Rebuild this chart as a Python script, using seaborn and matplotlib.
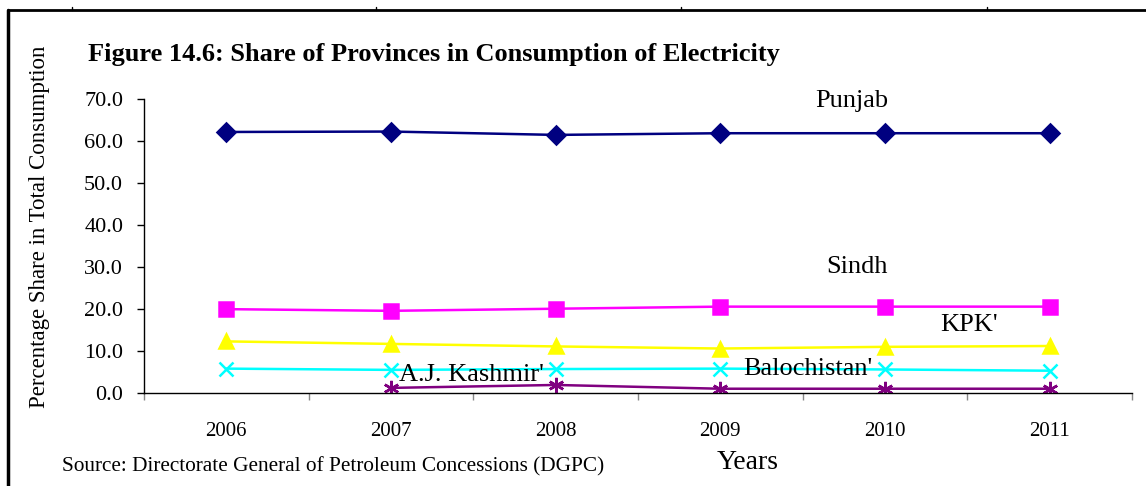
import matplotlib
matplotlib.use("Agg")
import matplotlib.pyplot as plt
from matplotlib.lines import Line2D
import seaborn as sns
import pandas as pd
import numpy as np

years = ["2006", "2007", "2008", "2009", "2010", "2011"]
punjab = [62.2, 62.3, 61.5, 61.9, 61.9, 61.9]
sindh = [19.9, 19.5, 20.0, 20.5, 20.5, 20.5]
kpk = [12.2, 11.6, 11.0, 10.5, 10.9, 11.1]
balochistan = [5.7, 5.4, 5.6, 5.7, 5.5, 5.2]
ajk = [np.nan, 1.1, 1.8, 0.9, 0.9, 0.9]
series_names = ["Punjab", "Sindh", "KPK'", "Balochistan'", "A.J. Kashmir'"]
title = "Figure 14.6: Share of Provinces in Consumption of Electricity"
source = "Source: Directorate General of Petroleum Concessions (DGPC)"

sns.set_style("white")
plt.rcParams["font.family"] = ["Liberation Serif", "DejaVu Serif"]
plt.rcParams["text.color"] = "black"
plt.rcParams["axes.labelcolor"] = "black"
plt.rcParams["xtick.color"] = "black"
plt.rcParams["ytick.color"] = "black"

rows = []
for name, vals in zip(series_names, [punjab, sindh, kpk, balochistan, ajk]):
    for i, v in enumerate(vals):
        if not np.isnan(v):
            rows.append({"idx": i, "value": v, "province": name})
df = pd.DataFrame(rows)

palette = {"Punjab": "#000080", "Sindh": "#FF00FF", "KPK'": "#FFFF00",
           "Balochistan'": "#00FFFF", "A.J. Kashmir'": "#800080"}
markers = {"Punjab": "D", "Sindh": "s", "KPK'": "^",
           "Balochistan'": "x", "A.J. Kashmir'": (6, 2, 0)}
msizes = {"Punjab": 9, "Sindh": 10, "KPK'": 10, "Balochistan'": 10, "A.J. Kashmir'": 11}

fig = plt.figure(figsize=(11.46, 4.86), dpi=100)
ax = fig.add_axes([144 / 1146, 93.5 / 486, (1132 - 144) / 1146, (392.5 - 99.3) / 486])

for name in series_names:
    sub = df[df["province"] == name]
    c = palette[name]
    sns.lineplot(data=sub, x="idx", y="value", color=c, marker=markers[name],
                 markersize=msizes[name], markeredgewidth=1.8, markeredgecolor=c,
                 markerfacecolor=c, linewidth=1.8, ax=ax, legend=False)

ax.set_xlim(-0.5, 5.5)
ax.set_ylim(0, 70)
ax.set_yticks(np.arange(0, 71, 10))
ax.set_yticklabels([f"{v:.1f}" for v in np.arange(0, 71, 10)], fontsize=16)
ax.set_xticks(np.arange(-0.5, 6, 1))
ax.set_xticklabels([])
ax.set_xticks(np.arange(0, 6), minor=True)
ax.set_xticklabels(years, minor=True, fontsize=15)
ax.tick_params(axis="x", which="major", direction="out", length=5, width=1, color="#888888")
ax.tick_params(axis="x", which="minor", length=0, pad=21)
ax.tick_params(axis="y", direction="out", length=5, width=1, color="black", pad=10, left=True)
ax.tick_params(axis="x", which="major", bottom=True)
for s in ["top", "right"]:
    ax.spines[s].set_visible(False)
for s in ["left", "bottom"]:
    ax.spines[s].set_color("black")
    ax.spines[s].set_linewidth(1)
ax.set_xlabel("")
ax.set_ylabel("Percentage Share in Total Consumption", fontsize=16.5)
ax.yaxis.set_label_coords(-0.095, 0.565)

# series labels
label_pos = {"Punjab": (3.8, 69.6), "Sindh": (3.83, 30.0), "KPK'": (4.51, 16.1),
             "Balochistan'": (3.53, 5.6), "A.J. Kashmir'": (1.49, 4.2)}
for name, (lx, ly) in label_pos.items():
    ax.text(lx, ly, name, ha="center", va="center", fontsize=19, clip_on=False)

fig.text(88 / 1146, 1 - 55 / 486, title, fontsize=19, fontweight="bold", va="center", ha="left")
fig.text(62 / 1146, 1 - 467 / 486, source, fontsize=15.3, va="center", ha="left")
fig.text(748 / 1146, 1 - 462 / 486, "Years", fontsize=20, va="center", ha="center")

# page frame
fig.add_artist(Line2D([8 / 1146, 8 / 1146], [0, 1 - 10 / 486], color="black", lw=2.5,
                      transform=fig.transFigure))
fig.add_artist(Line2D([8 / 1146, 1], [1 - 10 / 486, 1 - 10 / 486], color="black", lw=2,
                      transform=fig.transFigure))
for tx in [72, 376, 681, 987]:
    fig.add_artist(Line2D([tx / 1146, tx / 1146], [1 - 10 / 486, 1 - 7 / 486], color="black",
                          lw=1, transform=fig.transFigure))

fig.savefig("out.png", dpi=100)
